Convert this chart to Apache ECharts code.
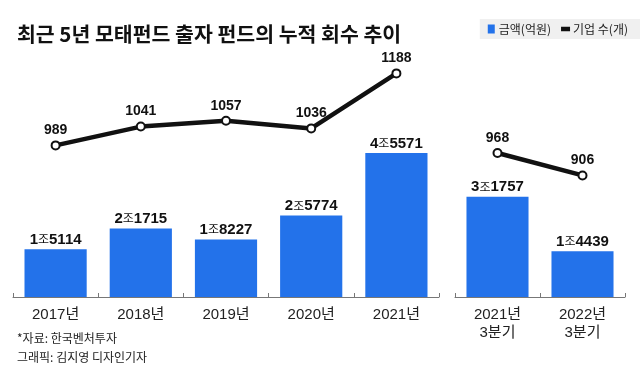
<!DOCTYPE html>
<html><head><meta charset="utf-8">
<script src="https://cdn.jsdelivr.net/npm/echarts@6/dist/echarts.min.js"></script>
<style>html,body{margin:0;padding:0;background:#fff}#c{width:640px;height:374px}</style>
</head><body><div id="c"></div>
<script>
const titleText = '최근 5년 모태펀드 출자 펀드의 누적 회수 추이';
const sourceText = '*자료: 한국벤처투자';
const creditText = '그래픽: 김지영 디자인기자';
const amountName = '금액(억원)';
const countName = '기업 수(개)';
const categories1 = ['2017년', '2018년', '2019년', '2020년', '2021년'];
const categories2 = ['2021년\n3분기', '2022년\n3분기'];
const amount1 = [15114, 21715, 18227, 25774, 45571];
const amount2 = [31757, 14439];
const companies1 = [989, 1041, 1057, 1036, 1188];
const companies2 = [968, 906];

const NUMFONT = '"Liberation Sans", Arial, "Noto Sans CJK KR", sans-serif';
const KFONT = '"Noto Sans CJK KR", sans-serif';
const BLUE = '#2372EA';

function fmtAmount(p) {
  const v = p.value;
  const jo = Math.floor(v / 10000);
  const rest = String(v % 10000).padStart(4, '0');
  return '{n|' + jo + '}{j|조}{n|' + rest + '}';
}
const barLabel = {
  show: true, position: 'top', distance: 2, formatter: fmtAmount,
  rich: {
    n: { fontFamily: NUMFONT, fontWeight: 'bold', fontSize: 15, color: '#111' },
    j: { fontFamily: KFONT, fontSize: 12, color: '#111' }
  }
};
const lineLabel = {
  show: true, position: 'top', distance: 3,
  fontFamily: NUMFONT, fontWeight: 'bold', fontSize: 14, color: '#111'
};
function xAxis(gi, data) {
  return {
    type: 'category', gridIndex: gi, data: data,
    axisLine: { lineStyle: { color: '#777', width: 1 } },
    axisTick: { show: true, inside: true, length: 4, lineStyle: { color: '#777' } },
    axisLabel: { fontFamily: NUMFONT, fontSize: 15, color: '#222', margin: 9, lineHeight: 18 }
  };
}
function yBar(gi) { return { type: 'value', gridIndex: gi, min: 0, max: 75000, show: false, splitLine: { show: false } }; }
function yLine(gi) { return { type: 'value', gridIndex: gi, min: 570, max: 1225, show: false, splitLine: { show: false } }; }

const chart = echarts.init(document.getElementById('c'));
chart.setOption({
  animation: false,
  backgroundColor: '#fff',
  title: [
    { text: titleText, left: 12, top: 19, textStyle: { fontFamily: KFONT, fontSize: 20.5, fontWeight: 'bold', color: '#111' } },
    { text: sourceText, left: 12, top: 327, textStyle: { fontFamily: KFONT, fontSize: 12, fontWeight: 'normal', color: '#222' } },
    { text: creditText, left: 12, top: 346, textStyle: { fontFamily: KFONT, fontSize: 12, fontWeight: 'normal', color: '#222' } }
  ],
  legend: {
    right: 0, top: 19, backgroundColor: '#f0f0f0', padding: [4, 12, 4, 8], itemGap: 10,
    itemWidth: 7, itemHeight: 9,
    textStyle: { fontFamily: KFONT, fontSize: 12, color: '#222', padding: [0, 0, 0, -1] },
    data: [
      { name: amountName, icon: 'rect', itemStyle: { color: BLUE } },
      { name: countName, icon: 'path://M0,0h8v3h-8z', itemStyle: { color: '#111' } }
    ]
  },
  grid: [
    { left: 13, width: 426, top: 60, bottom: 77 },
    { left: 455, width: 170, top: 60, bottom: 77 }
  ],
  xAxis: [xAxis(0, categories1), xAxis(1, categories2)],
  yAxis: [yBar(0), yLine(0), yBar(1), yLine(1)],
  series: [
    { name: amountName, type: 'bar', xAxisIndex: 0, yAxisIndex: 0, data: amount1, barWidth: '73%', itemStyle: { color: BLUE }, label: barLabel },
    { name: amountName, type: 'bar', xAxisIndex: 1, yAxisIndex: 2, data: amount2, barWidth: '73%', itemStyle: { color: BLUE }, label: barLabel },
    { name: countName, type: 'line', xAxisIndex: 0, yAxisIndex: 1, data: companies1, symbol: 'circle', symbolSize: 8,
      lineStyle: { color: '#111', width: 4.5 }, itemStyle: { color: '#fff', borderColor: '#111', borderWidth: 2 }, label: lineLabel, z: 5 },
    { name: countName, type: 'line', xAxisIndex: 1, yAxisIndex: 3, data: companies2, symbol: 'circle', symbolSize: 8,
      lineStyle: { color: '#111', width: 4.5 }, itemStyle: { color: '#fff', borderColor: '#111', borderWidth: 2 }, label: lineLabel, z: 5 }
  ]
});
</script></body></html>
